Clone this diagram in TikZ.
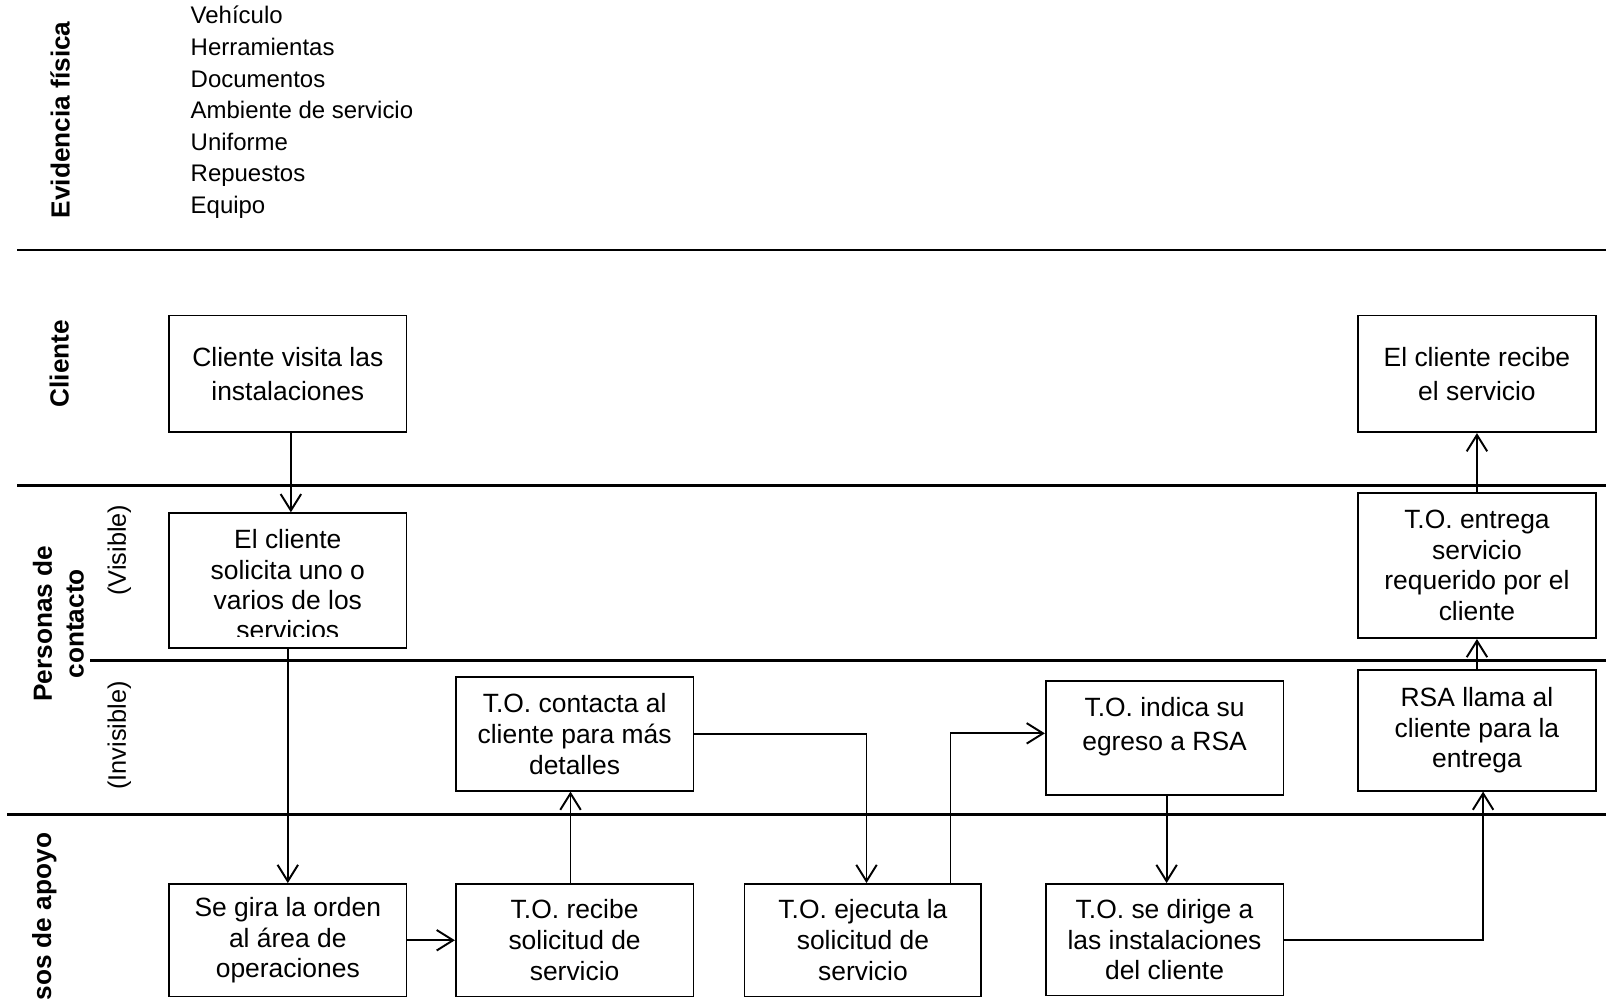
\documentclass[tikz,border=0pt]{standalone}
\usepackage{fontspec}
\setmainfont{Liberation Sans}
\usetikzlibrary{arrows.meta}
\begin{document}
\begin{tikzpicture}[x=1pt,y=-1pt,
  box/.style={draw, line width=1.7pt, inner sep=0pt, minimum width=232pt,
    align=center, font=\fontsize{25.8}{30}\selectfont},
  boxtext/.style={inner sep=0pt, align=center, font=\fontsize{25.8}{29.5}\selectfont},
  lanerule/.style={line width=2.6pt},
  flow/.style={line width=1.9pt, -{Straight Barb[length=16pt,width=20pt]}},
  lanetitle/.style={rotate=90, inner sep=0pt, font=\fontsize{25.6}{31}\selectfont\bfseries},
  sublane/.style={rotate=90, inner sep=0pt, font=\fontsize{24.7}{30}\selectfont},
  item/.style={anchor=base west, inner sep=0pt, font=\fontsize{23.4}{31}\selectfont}]
\useasboundingbox (0,0) rectangle (1568,975);
\clip (0,0) rectangle (1568,975);

% lane separators
\draw[lanerule] (17,244) -- (1568,244);
\draw[lanerule] (17,474) -- (1568,474);
\draw[lanerule] (88,645) -- (1568,645);
\draw[lanerule] (7,795) -- (1568,795);

% lane titles
\node[lanetitle, anchor=base] (evid) at (68,117) {Evidencia física};
\node[lanetitle, anchor=base] (cli) at (67,355) {Cliente};
\node[lanetitle, align=center] (pers) at (57,609) {Personas de\\contacto};
\node[sublane, anchor=base] (vis) at (123,537) {(Visible)};
\node[sublane, anchor=base] (invis) at (123,718) {(Invisible)};
\node[lanetitle, anchor=base east] (apoyo) at (50,813) {Procesos de apoyo};

% physical evidence list
\foreach \t [count=\i] in {Vehículo,Herramientas,Documentos,Ambiente de servicio,Uniforme,Repuestos,Equipo}
  \node[item] (ev\i) at (186,{23.4+(\i-1)*30.8}) {\t};

% customer actions
\node[box, minimum height=114pt, font=\fontsize{25.8}{33}\selectfont] (b1) at (281,365)
  {Cliente visita las\\instalaciones};
\node[box, minimum height=114pt, font=\fontsize{25.8}{33}\selectfont] (b2) at (1442,365)
  {El cliente recibe\\el servicio};

% visible contact
\node[box, minimum height=132pt] (b3) at (281,567) {};
\begin{scope}
  \clip (165,501) rectangle (397,621);
  \node[boxtext] (t3) at (281,571) {El cliente\\solicita uno o\\varios de los\\servicios};
\end{scope}
\node[box, minimum height=142pt, font=\fontsize{25.8}{29.7}\selectfont] (b4) at (1442,552)
  {T.O. entrega\\servicio\\requerido por el\\cliente};

% invisible contact
\node[box, minimum height=118pt, font=\fontsize{25.8}{29.5}\selectfont] (b5) at (1442,713)
  {RSA llama al\\cliente para la\\entrega};
\node[box, minimum height=111pt] (b6) at (561,716.5)
  {T.O. contacta al\\cliente para más\\detalles};
\node[box, minimum height=111pt, font=\fontsize{25.8}{33}\selectfont] (b7) at (1137,720.5)
  {T.O. indica su\\egreso a RSA\\[-6pt]\mbox{}};

% support processes
\node[box, minimum height=110pt] (b8) at (281,918)
  {Se gira la orden\\al área de\\operaciones};
\node[box, minimum height=110pt] (b9) at (561,918)
  {T.O. recibe\\solicitud de\\servicio};
\node[box, minimum height=110pt, minimum width=231pt] (b10) at (842.5,918)
  {T.O. ejecuta la\\solicitud de\\servicio};
\node[box, minimum height=109pt] (b11) at (1137,917.5)
  {T.O. se dirige a\\las instalaciones\\del cliente};

% flow
\draw[flow] ([xshift=3pt]b1.south) -- ([xshift=3pt]b3.north);
\draw[flow] (b3.south) -- (b8.north);
\draw[flow] (b8.east) -- (b9.west);
\draw[flow] ([xshift=-4pt]b9.north) -- ([xshift=-4pt]b6.south);
\draw[flow] (b6.east) -| ([xshift=3.5pt]b10.north);
\draw[flow] ([xshift=85.5pt]b10.north) |- ([yshift=4.5pt]b7.west);
\draw[flow] ([xshift=2pt]b7.south) -- ([xshift=2pt]b11.north);
\draw[flow] (b11.east) -| ([xshift=6pt]b5.south);
\draw[flow] (b5.north) -- (b4.south);
\draw[flow] (b4.north) -- (b2.south);
\end{tikzpicture}
\end{document}
